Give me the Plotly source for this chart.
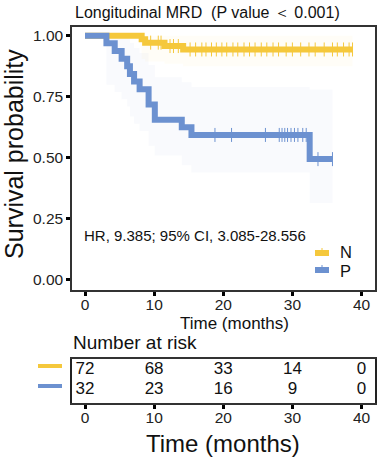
import numpy as np
import plotly.graph_objects as go

W, H = 377, 459
FONT = "Liberation Sans, Arial, sans-serif"
YEL = "#F5C83C"
BLU = "#6C91D0"

# ---------------- data ----------------
n_time = [0, 8.2, 8.7, 11.5, 14.2, 38.7]
n_surv = [1.0, 0.986, 0.972, 0.958, 0.944, 0.944]
n_lower = [1.0, 0.905, 0.895, 0.885, 0.875, 0.875]
n_upper = [1.0, 1.0, 1.0, 1.0, 1.0, 1.0]
n_censor = [9.5, 10.6, 11.0, 12.3, 12.8, 13.5, 15.2, 16.0, 16.9, 17.5, 18.3, 19.0,
            19.8, 20.5, 21.4, 22.1, 23.0, 23.8, 24.6, 25.5, 26.3, 27.2, 28.0, 29.1,
            30.0, 31.2, 32.4, 33.3, 34.6, 35.8, 36.5, 37.4, 38.2, 38.7]

p_time = [0, 3.1, 4.3, 5.3, 6.1, 6.5, 7.1, 7.9, 9.2, 10.1, 14.0, 15.4, 32.5, 35.8]
p_surv = [1.0, 0.969, 0.938, 0.906, 0.875, 0.844, 0.813, 0.781, 0.719, 0.656, 0.625, 0.594, 0.495, 0.495]
p_lower = [1.0, 0.80, 0.77, 0.74, 0.71, 0.67, 0.64, 0.61, 0.55, 0.51, 0.47, 0.44, 0.315, 0.315]
p_upper = [1.0, 1.0, 1.0, 1.0, 0.99, 0.97, 0.95, 0.93, 0.88, 0.83, 0.81, 0.79, 0.78, 0.78]
p_censor = [18.8, 21.2, 26.1, 28.1, 28.5, 28.9, 29.3, 29.8, 30.3, 30.8, 31.5, 32.0, 33.7, 35.8]

groups = ["N", "P"]
risk_times = [0, 10, 20, 30, 40]
risk_n = [72, 68, 33, 14, 0]
risk_p = [32, 23, 16, 9, 0]

x_ticks = [0, 10, 20, 30, 40]
y_ticks = [0, 0.25, 0.5, 0.75, 1.0]
y_ticktext = ["0.00", "0.25", "0.50", "0.75", "1.00"]

title_text = "Longitudinal MRD \u00a0(P value \uff1c 0.001)"
hr_text = "HR, 9.385; 95% CI, 3.085-28.556"


def step_at(times, surv, pts):
    idx = np.searchsorted(np.asarray(times), np.asarray(pts), side="right") - 1
    return [surv[i] for i in idx]


fig = go.Figure()

# confidence bands
for t, lo, up, col in [(n_time, n_lower, n_upper, "rgba(245,200,60,0.04)"),
                       (p_time, p_lower, p_upper, "rgba(108,145,208,0.045)")]:
    fig.add_trace(go.Scatter(x=t, y=up, mode="lines", line=dict(width=0, shape="hv"),
                             showlegend=False, hoverinfo="skip"))
    fig.add_trace(go.Scatter(x=t, y=lo, mode="lines", line=dict(width=0, shape="hv"),
                             fill="tonexty", fillcolor=col, showlegend=False, hoverinfo="skip"))

# curves
for name, t, s, cens, col in [(groups[0], n_time, n_surv, n_censor, YEL),
                              (groups[1], p_time, p_surv, p_censor, BLU)]:
    fig.add_trace(go.Scatter(x=t, y=s, mode="lines", name=name, showlegend=False,
                             line=dict(color=col, width=6, shape="hv")))
    fig.add_trace(go.Scatter(x=cens, y=step_at(t, s, cens), mode="markers", showlegend=False,
                             marker=dict(symbol="line-ns", size=10, color=col,
                                         line=dict(color=col, width=1))))

# risk table numbers
fig.add_trace(go.Scatter(x=risk_times, y=[2] * len(risk_times), text=[str(v) for v in risk_n],
                         mode="text", textfont=dict(size=17, color="#111", family=FONT),
                         xaxis="x2", yaxis="y2", showlegend=False))
fig.add_trace(go.Scatter(x=risk_times, y=[1] * len(risk_times), text=[str(v) for v in risk_p],
                         mode="text", textfont=dict(size=17, color="#111", family=FONT),
                         xaxis="x2", yaxis="y2", showlegend=False))

px_x = lambda v: v / W
px_y = lambda v: 1 - v / H

axis_common = dict(showgrid=False, zeroline=False, showline=True, linecolor="#333333",
                   linewidth=1.5, mirror=True, ticks="outside", ticklen=4, tickwidth=2.5,
                   tickcolor="black", tickfont=dict(size=15.5, color="#222", family=FONT))


def ann(text, x, y, size, xanchor="center", angle=0):
    return dict(text=text, x=px_x(x), y=px_y(y), xref="paper", yref="paper",
                xanchor=xanchor, yanchor="middle", showarrow=False, textangle=angle,
                font=dict(size=size, color="#111", family=FONT))


def seg(x0, x1, y0, y1, col, w):
    return dict(type="line", xref="paper", yref="paper", x0=px_x(x0), x1=px_x(x1),
                y0=px_y(y0), y1=px_y(y1), line=dict(color=col, width=w))


xr = [-1.88, 41.95]
fig.update_layout(
    width=W, height=H, margin=dict(l=0, r=0, t=0, b=0),
    plot_bgcolor="white", paper_bgcolor="white", showlegend=False,
    font=dict(family=FONT, color="#111"),
    xaxis=dict(domain=[px_x(72), px_x(375)], range=xr, tickvals=x_ticks, anchor="y",
               ticklabelstandoff=-4, **axis_common),
    yaxis=dict(domain=[px_y(290), px_y(27)], range=[-0.041, 1.036], tickvals=y_ticks,
               ticktext=y_ticktext, anchor="x", **axis_common),
    xaxis2=dict(domain=[px_x(72), px_x(375)], range=xr, tickvals=x_ticks, anchor="y2",
                ticklabelstandoff=-4, **axis_common),
    yaxis2=dict(domain=[px_y(403), px_y(359)], range=[0.35, 2.55], anchor="x2",
                showgrid=False, zeroline=False, showline=True, linecolor="#222", linewidth=1.5,
                mirror=True, showticklabels=False, ticks=""),
    annotations=[
        ann(title_text, 207, 12, 16),
        ann("Survival probability", 14, 154, 25, angle=-90),
        ann("Time (months)", 234, 323, 17),
        ann(hr_text, 82, 235, 15, xanchor="left"),
        ann("Number at risk", 71, 342, 19, xanchor="left"),
        ann("Time (months)", 223, 443, 24),
        ann(groups[0], 338, 252, 16.5, xanchor="left"),
        ann(groups[1], 338, 271, 16.5, xanchor="left"),
    ],
    shapes=[
        seg(38, 62, 366, 366, YEL, 4),
        seg(38, 62, 386, 386, BLU, 4),
        # legend keys
        seg(315, 329, 253, 253, YEL, 6),
        seg(322, 322, 248, 256, YEL, 1),
        seg(315, 329, 270, 270, BLU, 6),
        seg(322, 322, 265, 273, BLU, 1),
    ],
)

fig.write_html("out.html", config={"displayModeBar": False},
               post_script="document.body.style.margin='0';")
